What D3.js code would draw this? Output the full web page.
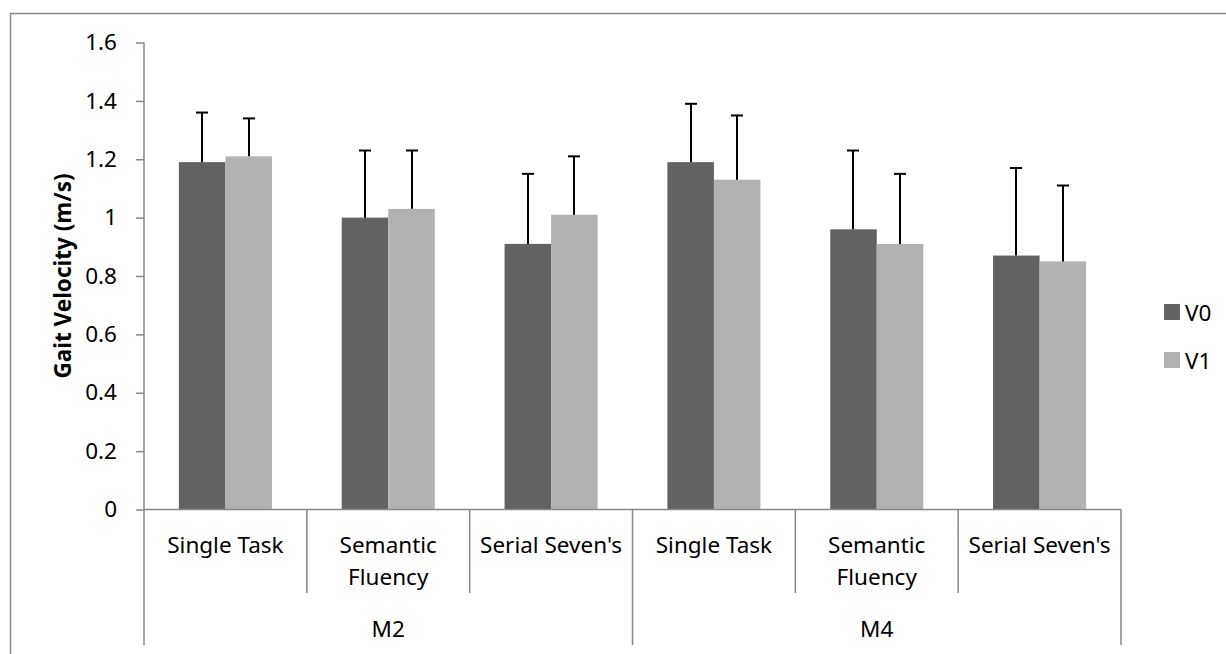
<!DOCTYPE html>
<html>
<head>
<meta charset="utf-8">
<script src="https://cdn.jsdelivr.net/npm/d3@7"></script>
<style>
  html, body { margin: 0; padding: 0; background: #fff; }
  svg { display: block; }
  text { font-family: "Noto Sans", "Open Sans", sans-serif; fill: #000; }
</style>
</head>
<body>
<svg id="chart" width="1226" height="654"></svg>
<script>
// Gait velocity by task condition, for visits V0 and V1, in months M2 and M4
const groups = ["M2", "M4"];
const tasks = ["Single Task", "Semantic Fluency", "Serial Seven's"];
const series = ["V0", "V1"];
const seriesColors = ["#626262", "#b2b2b2"];

// means (m/s), one entry per group × task, in order
const meanV0 = [1.19, 1.00, 0.91, 1.19, 0.96, 0.87];
const meanV1 = [1.21, 1.03, 1.01, 1.13, 0.91, 0.85];
// upper end of each error bar (m/s)
const upperV0 = [1.36, 1.23, 1.15, 1.39, 1.23, 1.17];
const upperV1 = [1.34, 1.23, 1.21, 1.35, 1.15, 1.11];

const yTicks = [0, 0.2, 0.4, 0.6, 0.8, 1, 1.2, 1.4, 1.6];
const yTitle = "Gait Velocity (m/s)";

const svg = d3.select("#chart");
const FS = 22.5;

// frame around the whole chart
svg.append("rect")
  .attr("x", 10.5).attr("y", 13.5)
  .attr("width", 1300).attr("height", 700)
  .attr("fill", "none").attr("stroke", "#878787").attr("stroke-width", 1.5);

const plot = { left: 144, right: 1121, top: 42.5, bottom: 509.5 };

// one slot per (group, task)
const slots = [];
groups.forEach(g => tasks.forEach(t => slots.push({ group: g, task: t, key: g + "|" + t })));

const x = d3.scaleBand()
  .domain(slots.map(s => s.key))
  .range([plot.left, plot.right])
  .paddingInner(0).paddingOuter(0);

const xInner = d3.scaleBand()
  .domain(series)
  .range([0, x.bandwidth()])
  .paddingInner(0).paddingOuter(0.75);

const y = d3.scaleLinear()
  .domain([0, 1.6])
  .range([plot.bottom, plot.top]);

const color = d3.scaleOrdinal().domain(series).range(seriesColors);

const means = { V0: meanV0, V1: meanV1 };
const uppers = { V0: upperV0, V1: upperV1 };

const rows = [];
slots.forEach((s, i) => series.forEach(k => rows.push({
  key: s.key, series: k, value: means[k][i], upper: uppers[k][i]
})));

// bars
svg.append("g").selectAll("rect")
  .data(rows)
  .join("rect")
  .attr("x", d => x(d.key) + xInner(d.series))
  .attr("y", d => y(d.value))
  .attr("width", xInner.bandwidth())
  .attr("height", d => y(0) - y(d.value))
  .attr("fill", d => color(d.series));

// error bars (upper side only)
const capHalf = 6;
const err = svg.append("g").attr("stroke", "#000").attr("stroke-width", 2);
rows.forEach(d => {
  const cx = Math.round(x(d.key) + xInner(d.series) + xInner.bandwidth() / 2);
  err.append("line")
    .attr("x1", cx).attr("x2", cx)
    .attr("y1", y(d.value)).attr("y2", y(d.upper));
  err.append("line")
    .attr("x1", cx - capHalf).attr("x2", cx + capHalf)
    .attr("y1", y(d.upper)).attr("y2", y(d.upper));
});

// value axis
const yAxis = svg.append("g")
  .attr("transform", `translate(${plot.left},0)`)
  .call(d3.axisLeft(y).tickValues(yTicks).tickSize(8).tickPadding(19)
    .tickFormat(d3.format("~g")));
yAxis.selectAll("path, line").attr("stroke", "#878787").attr("stroke-width", 1.5);
yAxis.select(".domain").attr("d", `M0,${plot.top}V${plot.bottom}`);
yAxis.selectAll("text")
  .attr("font-size", FS)
  .attr("font-family", "Noto Sans")
  .attr("fill", "#000");

svg.append("text")
  .attr("transform", `translate(62,${(plot.top + plot.bottom) / 2 + 0}) rotate(-90)`)
  .attr("text-anchor", "middle")
  .attr("dominant-baseline", "central")
  .attr("font-size", FS)
  .attr("font-weight", "bold")
  .text(yTitle);

// category axis: baseline, separators and two label rows
const axisG = svg.append("g").attr("stroke", "#878787").attr("stroke-width", 1.5);
axisG.append("line")
  .attr("x1", plot.left).attr("x2", plot.right)
  .attr("y1", plot.bottom).attr("y2", plot.bottom);

const boundaries = slots.map((s, i) => ({ x: x(s.key), groupEdge: i % tasks.length === 0 }));
boundaries.push({ x: plot.right, groupEdge: true });
boundaries.forEach(b => {
  axisG.append("line")
    .attr("x1", b.x).attr("x2", b.x)
    .attr("y1", plot.bottom).attr("y2", b.groupEdge ? 645 : 593);
});

const labelG = svg.append("g")
  .attr("font-size", FS)
  .attr("text-anchor", "middle");

slots.forEach(s => {
  const cx = x(s.key) + x.bandwidth() / 2;
  const t = labelG.append("text").attr("x", cx).attr("y", 553);
  t.text(s.task);
  // wrap onto two lines if the label is wider than its slot
  if (t.node().getComputedTextLength() > x.bandwidth() - 6) {
    const words = s.task.split(" ");
    t.text(null);
    words.forEach((w, i) => {
      t.append("tspan").attr("x", cx).attr("y", 553 + i * 32).text(w);
    });
  }
});

groups.forEach(g => {
  const members = slots.filter(s => s.group === g);
  const x0 = x(members[0].key);
  const x1 = x(members[members.length - 1].key) + x.bandwidth();
  labelG.append("text")
    .attr("x", (x0 + x1) / 2)
    .attr("y", 637)
    .text(g);
});

// legend
const legend = svg.append("g").attr("transform", "translate(1164,304)");
series.forEach((k, i) => {
  const row = legend.append("g").attr("transform", `translate(0,${i * 48})`);
  row.append("rect").attr("width", 16).attr("height", 16).attr("fill", color(k));
  row.append("text")
    .attr("x", 21).attr("y", 8)
    .attr("dominant-baseline", "central")
    .attr("font-size", FS)
    .text(k);
});
</script>
</body>
</html>
